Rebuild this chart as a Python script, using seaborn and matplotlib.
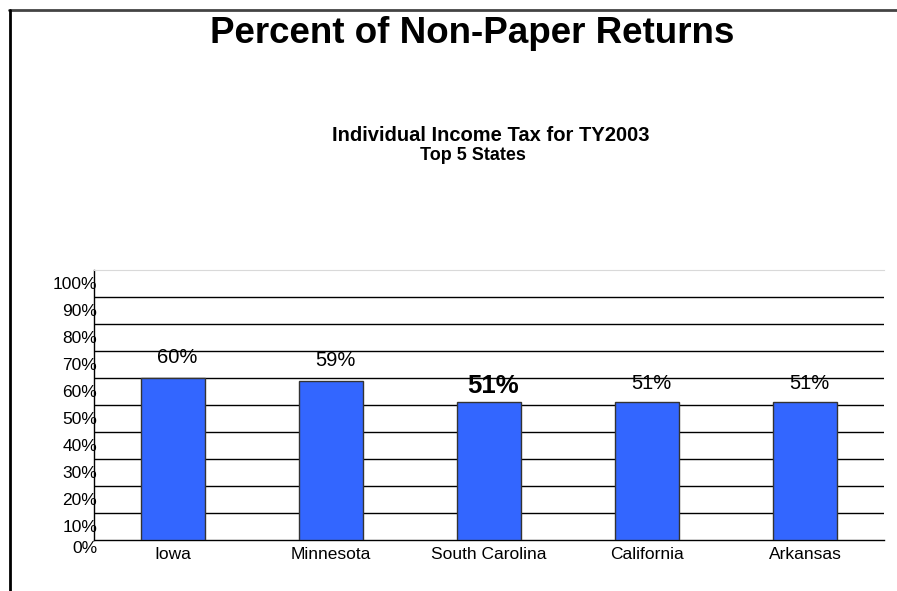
import numpy as np
import pandas as pd
import matplotlib
matplotlib.use('Agg')
import matplotlib.pyplot as plt
import matplotlib.transforms as mtransforms
from matplotlib.lines import Line2D
import seaborn as sns

# donnees
states = ['Iowa', 'Minnesota', 'South Carolina', 'California', 'Arkansas']
pct = [60, 59, 51, 51, 51]
bar_labels = ['60%', '59%', '51%', '51%', '51%']
y_ticks = list(range(0, 101, 10))
y_tick_labels = [f'{v}%' for v in y_ticks]

sns.set_style('white')
plt.rcParams['font.family'] = ['Liberation Sans', 'DejaVu Sans']
plt.rcParams['text.color'] = 'black'
plt.rcParams['xtick.color'] = 'black'
plt.rcParams['ytick.color'] = 'black'
plt.rcParams['xtick.labelcolor'] = 'black'
plt.rcParams['ytick.labelcolor'] = 'black'

fig = plt.figure(figsize=(8.97, 5.91), dpi=100)
ax = fig.add_axes([94 / 897, 51 / 591, 790 / 897, 270 / 591])

df = pd.DataFrame({'state': states, 'pct': pct})
sns.barplot(data=df, x='state', y='pct', color='#3366FF', saturation=1,
            width=0.4, edgecolor='#333333', linewidth=1, ax=ax, zorder=3)

ax.set_xlim(-0.5, 4.5)
ax.set_ylim(0, 100)
ax.set_xlabel('')
ax.set_ylabel('')

# lignes de grille
for v in y_ticks[1:-1]:
    ax.axhline(v, color='black', lw=1, zorder=1)

for side in ['left', 'bottom']:
    ax.spines[side].set_color('black')
    ax.spines[side].set_linewidth(1)
ax.spines['top'].set_color('#d9d9d9')
ax.spines['right'].set_visible(False)

# axe y : etiquettes decalees vers le bas
ax.set_yticks(y_ticks)
ax.set_yticklabels(y_tick_labels, fontsize=12.5)
ax.tick_params(axis='y', length=3.5, width=1, direction='out', pad=0, color='black')
for v, lab in zip(y_ticks, ax.get_yticklabels()):
    dy = -7 if v == 0 else -13
    lab.set_transform(lab.get_transform() +
                      mtransforms.ScaledTranslation(8 / 100, dy / 100, fig.dpi_scale_trans))

# axe x
ax.set_xticks(range(len(states)))
ax.set_xticklabels(states, fontsize=12.5)
ax.tick_params(axis='x', which='major', length=0, pad=5)
ax.set_xticks(np.arange(-0.5, len(states), 1), minor=True)
ax.tick_params(axis='x', which='minor', length=3, width=1, direction='out', color='black')

# etiquettes des barres
label_sizes = [14.5, 14.5, 18.5, 14.5, 14.5]
label_weights = ['normal', 'normal', 'bold', 'normal', 'normal']
label_dy = [14.5, 14.5, 11.5, 13.5, 13.5]
for i, (v, lab) in enumerate(zip(pct, bar_labels)):
    ax.annotate(lab, (i, v), xytext=(3, label_dy[i]), textcoords='offset points',
                ha='center', va='center', fontsize=label_sizes[i],
                fontweight=label_weights[i], color='black', zorder=4)

# titres
fig.text(472 / 897, 1 - 43 / 591, 'Percent of Non-Paper Returns', ha='center',
         va='baseline', fontsize=26.5, fontweight='bold', color='black')
fig.text(491 / 897, 1 - 140.5 / 591, 'Individual Income Tax for TY2003', ha='center',
         va='baseline', fontsize=14.5, fontweight='bold', color='black')
fig.text(473 / 897, 1 - 160 / 591, 'Top 5 States', ha='center',
         va='baseline', fontsize=13, fontweight='bold', color='black')

# cadre
fig.add_artist(Line2D([9 / 897, 1], [1 - 10 / 591] * 2, transform=fig.transFigure,
                      color='#444444', lw=2))
fig.add_artist(Line2D([9.5 / 897] * 2, [0, 1 - 10 / 591], transform=fig.transFigure,
                      color='black', lw=2))

fig.savefig('out.png', dpi=100)
